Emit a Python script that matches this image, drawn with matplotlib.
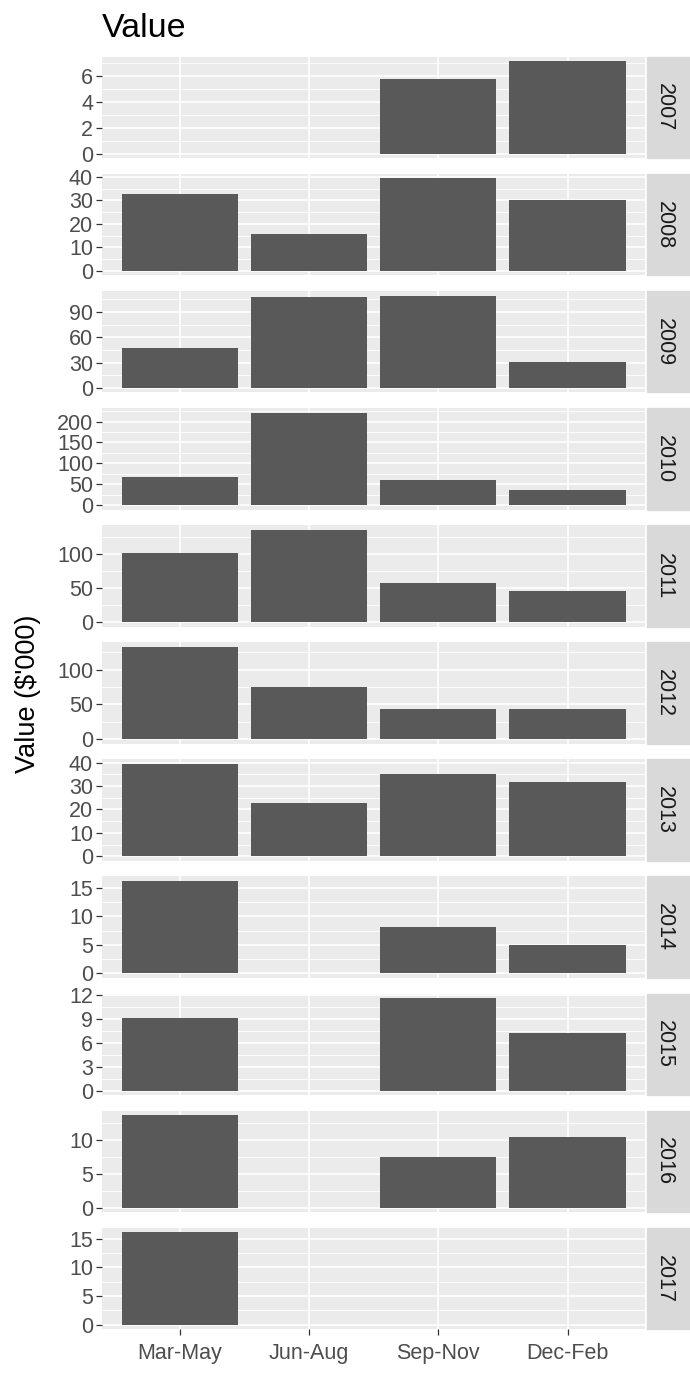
import numpy as np
import matplotlib.pyplot as plt
from matplotlib.ticker import MultipleLocator, AutoMinorLocator
from matplotlib.patches import Rectangle

plt.rcParams["font.family"] = ["Liberation Sans", "DejaVu Sans"]

seasons = ["Mar-May", "Jun-Aug", "Sep-Nov", "Dec-Feb"]
years = [2007, 2008, 2009, 2010, 2011, 2012, 2013, 2014, 2015, 2016, 2017]

# value ($'000) per season, None = no bar
v2007 = [None, None, 5.73, 7.1]
v2008 = [32.6, 15.6, 39.4, 30.1]
v2009 = [46.8, 107.0, 109.3, 30.6]
v2010 = [67.7, 221.6, 59.0, 35.1]
v2011 = [101.4, 135.8, 57.9, 46.4]
v2012 = [133.0, 75.6, 43.5, 43.5]
v2013 = [39.4, 22.75, 35.25, 31.9]
v2014 = [16.2, None, 8.1, 4.96]
v2015 = [9.15, None, 11.6, 7.2]
v2016 = [13.7, None, 7.5, 10.45]
v2017 = [16.1, None, None, None]
values = [v2007, v2008, v2009, v2010, v2011, v2012, v2013, v2014, v2015, v2016, v2017]

# y break spacing per panel
y_steps = [2, 10, 30, 50, 50, 50, 10, 5, 3, 5, 5]

fig, axes = plt.subplots(len(years), 1, figsize=(6.9, 13.73), dpi=100)
fig.subplots_adjust(left=0.148, right=0.935, top=0.9587, bottom=0.0318, hspace=0.153)

xpos = np.arange(1, len(seasons) + 1)

for ax, year, vals, step in zip(axes, years, values, y_steps):
    ax.set_facecolor("#EBEBEB")
    for s in ax.spines.values():
        s.set_visible(False)

    xs = [x for x, v in zip(xpos, vals) if v is not None]
    hs = [v for v in vals if v is not None]
    ax.bar(xs, hs, width=0.9, color="#595959", zorder=2)

    vmax = max(hs)
    ax.set_ylim(-0.05 * vmax, 1.05 * vmax)
    ax.set_xlim(0.4, 4.6)
    ax.yaxis.set_major_locator(MultipleLocator(step))
    ax.yaxis.set_minor_locator(AutoMinorLocator(2))
    ax.set_xticks(xpos)

    ax.set_axisbelow(True)
    ax.yaxis.grid(True, which="major", color="white", lw=1.2)
    ax.yaxis.grid(True, which="minor", color="white", lw=0.6)
    ax.xaxis.grid(True, which="major", color="white", lw=1.2)

    ax.tick_params(axis="y", which="major", length=4.5, width=0.9, color="#333333",
                   labelcolor="#4D4D4D", labelsize=15.5, pad=2)
    ax.tick_params(axis="y", which="minor", length=0)
    ax.tick_params(axis="x", length=0, labelbottom=False)

    # facet strip on the right
    ax.add_patch(Rectangle((1.004, 0), 0.12, 1, transform=ax.transAxes,
                           color="#D9D9D9", clip_on=False, zorder=0))
    ax.text(1.035, 0.5, str(year), transform=ax.transAxes, rotation=-90,
            ha="center", va="center", fontsize=15.5, color="#1A1A1A")

last = axes[-1]
last.set_xticks(xpos)
last.set_xticklabels(seasons)
last.tick_params(axis="x", length=4.5, width=0.9, color="#333333",
                 labelcolor="#4D4D4D", labelsize=15.5, labelbottom=True, pad=5)

fig.text(0.148, 0.973, "Value", fontsize=24.5, color="black", ha="left", va="baseline")
fig.text(0.04, 0.495, "Value ($'000)", fontsize=19.5, rotation=90,
         ha="center", va="center", color="black")

fig.savefig("out.png", dpi=100)
